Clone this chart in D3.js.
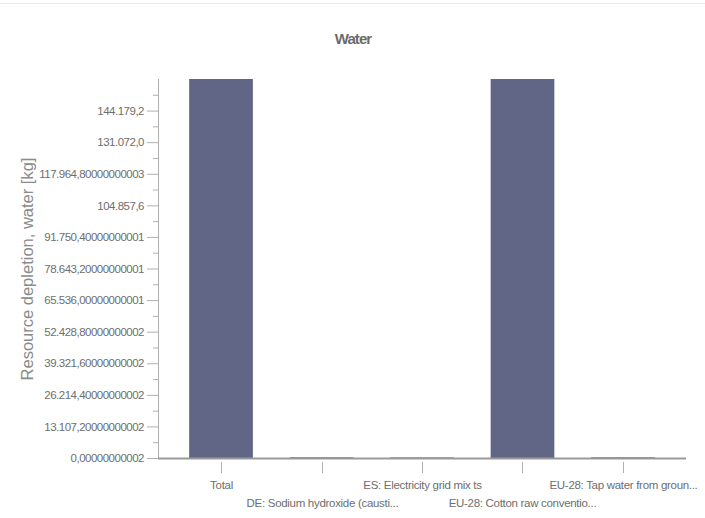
<!DOCTYPE html>
<html>
<head>
<meta charset="utf-8">
<script src="https://cdn.jsdelivr.net/npm/d3@7"></script>
<style>
  html, body { margin: 0; padding: 0; background: #fff; }
  svg { display: block; }
  text { font-family: "Liberation Sans", Arial, sans-serif; }
</style>
</head>
<body>
<svg id="chart" width="705" height="518"></svg>
<script>
const title = "Water";
const yTitle = "Resource depletion, water [kg]";
const categories = [
  "Total",
  "DE: Sodium hydroxide (causti...",
  "ES: Electricity grid mix ts",
  "EU-28: Cotton raw conventio...",
  "EU-28: Tap water from groun..."
];
const values = [262000, 300, 250, 259000, 300];
const tickValues = [0, 13107.2, 26214.4, 39321.6, 52428.8, 65536, 78643.2, 91750.4, 104857.6, 117964.8, 131072, 144179.2];
const tickLabels = [
  "0,00000000002", "13.107,20000000002", "26.214,40000000002", "39.321,60000000002",
  "52.428,80000000002", "65.536,00000000001", "78.643,20000000001", "91.750,40000000001",
  "104.857,6", "117.964,80000000003", "131.072,0", "144.179,2"
];
const minorTickValues = [6553.6, 19660.8, 32768, 45875.2, 58982.4, 72089.6, 85196.8, 98304, 111411.2, 124518.4, 137625.6, 150732.8];
const yMax = 157286.4;

const svg = d3.select("#chart");
const pLeft = 158, pRight = 686, pTop = 79, pBottom = 458;

// top light line
svg.append("line").attr("x1", 0).attr("x2", 705).attr("y1", 3.5).attr("y2", 3.5)
  .attr("stroke", "#e3edf4").attr("stroke-width", 1);

svg.append("text").attr("x", 353).attr("y", 44).attr("text-anchor", "middle")
  .attr("font-size", 15).attr("font-weight", "bold").attr("fill", "#6b6b6b")
  .attr("letter-spacing", "-0.9px").text(title);

const x = d3.scaleBand().domain(categories).range([pLeft, pRight]).paddingInner(0.366).paddingOuter(0.31);
const y = d3.scaleLinear().domain([0, yMax]).range([pBottom, pTop]);

svg.append("defs").append("clipPath").attr("id", "clip")
  .append("rect").attr("x", pLeft).attr("y", pTop).attr("width", pRight - pLeft).attr("height", pBottom - pTop);

svg.append("g").attr("clip-path", "url(#clip)").selectAll("rect").data(values).join("rect")
  .attr("x", (d, i) => x(categories[i]))
  .attr("width", x.bandwidth())
  .attr("y", d => y(d))
  .attr("height", d => y(0) - y(d))
  .attr("fill", "#626686");

// y axis
const yAxis = d3.axisLeft(y).tickValues(tickValues).tickFormat((d, i) => tickLabels[i]).tickSize(11).tickPadding(3);
const gy = svg.append("g").attr("transform", `translate(${pLeft},0)`).call(yAxis);
gy.select(".domain").attr("stroke", "#b0b0b0").attr("d", `M0.5,${pTop}V${pBottom}`);
gy.selectAll(".tick line").attr("stroke", "#b0b0b0");
gy.selectAll(".tick text").attr("fill", "#6e6e6e").attr("font-size", 11.5).attr("letter-spacing", "-0.5px")
  .attr("font-family", "'Liberation Sans', Arial, sans-serif");
const gyMinor = svg.append("g").attr("transform", `translate(${pLeft},0)`)
  .call(d3.axisLeft(y).tickValues(minorTickValues).tickSize(5).tickFormat(""));
gyMinor.select(".domain").remove();
gyMinor.selectAll(".tick line").attr("stroke", "#b0b0b0");

// x axis
const xAxis = d3.axisBottom(x).tickSize(0).tickFormat("");
const gx = svg.append("g").attr("transform", `translate(0,${pBottom})`).call(xAxis);
gx.select(".domain").attr("stroke", "#9a9a9a").attr("stroke-width", 2).attr("d", `M${pLeft},0.5H${pRight}`);
const gxt = svg.append("g").attr("transform", `translate(0,${pBottom})`);
categories.forEach((c, i) => {
  const cx = Math.round(x(c) + x.bandwidth() / 2) + 0.5;
  gxt.append("line").attr("x1", cx).attr("x2", cx).attr("y1", 4).attr("y2", 15).attr("stroke", "#b0b0b0");
  gxt.append("text").attr("x", cx).attr("y", i % 2 === 0 ? 31 : 49).attr("text-anchor", "middle")
    .attr("font-size", 11.5).attr("letter-spacing", "-0.3px").attr("fill", "#6e6e6e").text(c);
});

svg.append("text").attr("transform", `translate(33,269) rotate(-90)`)
  .attr("text-anchor", "middle").attr("font-size", 16.5).attr("fill", "#8a8a8a").text(yTitle);
</script>
</body>
</html>
